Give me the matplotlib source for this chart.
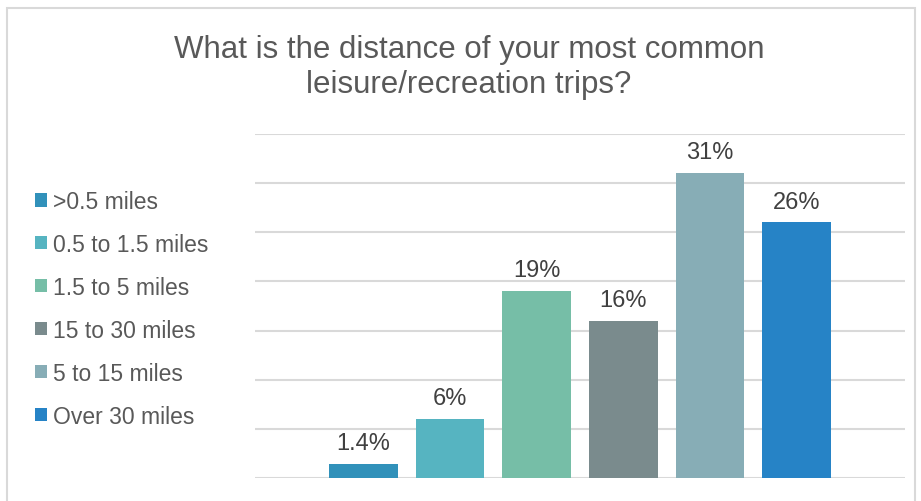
import matplotlib.pyplot as plt
from matplotlib.patches import Rectangle

# Survey answers
categories = [">0.5 miles", "0.5 to 1.5 miles", "1.5 to 5 miles",
              "15 to 30 miles", "5 to 15 miles", "Over 30 miles"]
shares = [1.4, 6, 19, 16, 31, 26]
value_labels = ["1.4%", "6%", "19%", "16%", "31%", "26%"]
colors = ["#3191BA", "#56B4C1", "#76BEA7", "#7A8B8D", "#87ADB6", "#2683C6"]
title_lines = ["What is the distance of your most common", "leisure/recreation trips?"]

plt.rcParams["font.family"] = ["Liberation Sans", "DejaVu Sans"]

fig = plt.figure(figsize=(9.21, 5.02), dpi=100)

# light chart-area border
fig.patches.append(Rectangle((7 / 921, -0.05), (915 - 7) / 921, 1.05 - 9 / 502,
                             transform=fig.transFigure, fill=False,
                             edgecolor="#D9D9D9", linewidth=1.5))

ax = fig.add_axes([255 / 921, 1 - 479 / 502, 650 / 921, (479 - 135) / 502])

x = range(len(categories))
bars = ax.bar(x, shares, width=0.79, color=colors, label=categories, zorder=3)

for b, lab in zip(bars, value_labels):
    ax.annotate(lab, (b.get_x() + b.get_width() / 2, b.get_height()),
                xytext=(0, 15), textcoords="offset points", ha="center", va="center",
                fontsize=17, color="#404040")

ax.set_ylim(0, 35)
ax.set_xlim(-1.25, 6.25)
ax.set_yticks(range(0, 36, 5))
ax.yaxis.grid(True, color="#D9D9D9", linewidth=1.5)
ax.tick_params(left=False, bottom=False, labelleft=False, labelbottom=False)
for s in ax.spines.values():
    s.set_visible(False)

# title, one line at a time so the baselines sit where they should
for line, base_y in zip(title_lines, [58, 93]):
    fig.text(469 / 921, 1 - base_y / 502, line, ha="center", va="baseline",
             fontsize=22.5, color="#595959")

fig.legend(handles=list(bars), labels=categories, loc="upper left",
           bbox_to_anchor=(35 / 921, 1 - 191 / 502), frameon=False,
           fontsize=16.5, labelcolor="#595959", handlelength=0.52, handleheight=0.52,
           handletextpad=0.26, labelspacing=0.87, borderaxespad=0, borderpad=0)

fig.savefig("out.png", dpi=100)
